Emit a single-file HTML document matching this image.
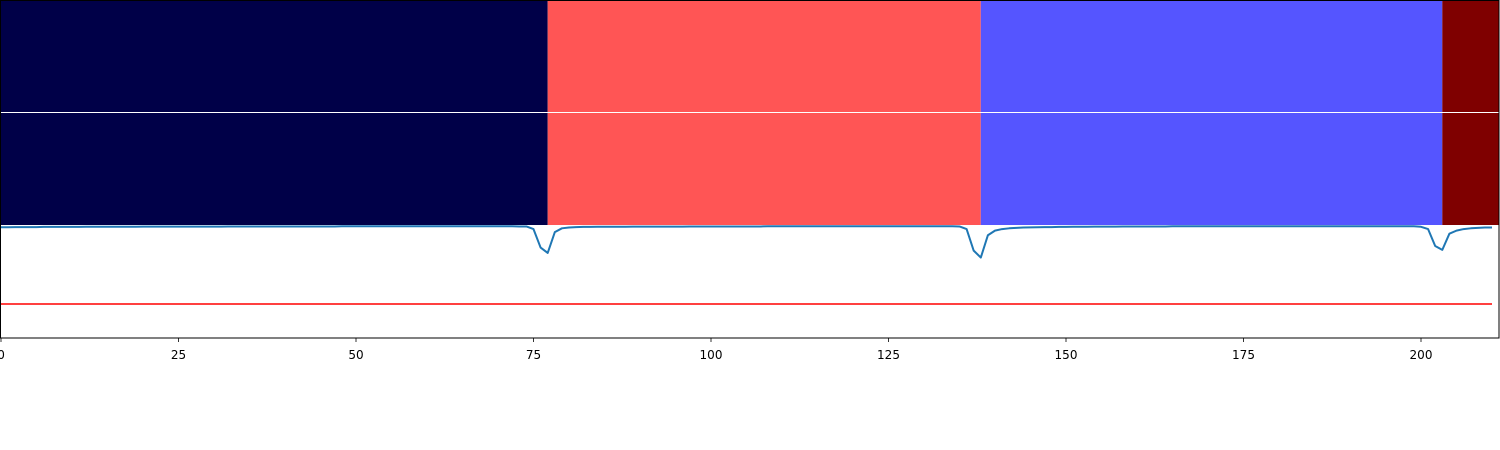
<!DOCTYPE html>
<html><head><meta charset="utf-8"><style>
html,body{margin:0;padding:0;background:#fff;width:1500px;height:450px;overflow:hidden}
svg text{font-family:"DejaVu Sans","Liberation Sans",sans-serif;font-size:12px}
</style></head><body>
<svg id="chart" width="1500" height="450" xmlns="http://www.w3.org/2000/svg"></svg>
<script>
const segStarts = [0, 77, 138, 203];
const segEnds = [77, 138, 203, 211];
const segColors = ["#000048", "#ff5555", "#5555ff", "#7f0000"];
const xTicks = [0, 25, 50, 75, 100, 125, 150, 175, 200];
const threshold = 0.5;
const probs = [
0.992,0.992,0.993,0.993,0.993,0.993,0.994,0.994,0.994,0.994,
0.994,0.994,0.995,0.995,0.995,0.995,0.995,0.995,0.995,0.995,
0.996,0.996,0.996,0.996,0.996,0.996,0.996,0.996,0.996,0.996,
0.996,0.996,0.997,0.997,0.997,0.997,0.997,0.997,0.997,0.997,
0.997,0.997,0.997,0.997,0.997,0.997,0.997,0.997,0.998,0.998,
0.998,0.998,0.998,0.998,0.998,0.998,0.998,0.998,0.998,0.998,
0.998,0.998,0.998,0.998,0.998,0.998,0.998,0.998,0.998,0.998,
0.998,0.998,0.998,0.997,0.997,0.98,0.86,0.825,0.96,0.985,
0.99,0.993,0.994,0.994,0.995,0.995,0.995,0.995,0.995,0.996,
0.996,0.996,0.996,0.996,0.996,0.996,0.996,0.997,0.997,0.997,
0.997,0.997,0.997,0.997,0.997,0.997,0.997,0.997,0.998,0.998,
0.998,0.998,0.998,0.998,0.998,0.998,0.998,0.998,0.998,0.998,
0.998,0.998,0.998,0.998,0.998,0.998,0.998,0.998,0.998,0.998,
0.998,0.998,0.998,0.998,0.998,0.997,0.98,0.84,0.795,0.94,
0.97,0.98,0.985,0.988,0.99,0.991,0.992,0.993,0.993,0.994,
0.994,0.995,0.995,0.995,0.996,0.996,0.996,0.996,0.997,0.997,
0.997,0.997,0.997,0.997,0.997,0.998,0.998,0.998,0.998,0.998,
0.998,0.998,0.998,0.998,0.998,0.998,0.998,0.998,0.998,0.998,
0.998,0.998,0.998,0.998,0.998,0.998,0.998,0.998,0.998,0.998,
0.998,0.998,0.998,0.998,0.998,0.998,0.998,0.998,0.998,
0.998,0.995,0.98,0.87,0.845,0.95,0.97,0.98,0.985,0.988,
0.99,0.99];
const NS="http://www.w3.org/2000/svg";
const svg=document.getElementById('chart');
const X0=1, PX=7.1;
function xs(v){return X0+v*PX;}
const yTop=226, yPerUnit=154;
function ys(v){return yTop+(1-v)*yPerUnit;}
function mk(tag,attrs){const e=document.createElementNS(NS,tag);for(const k in attrs)e.setAttribute(k,attrs[k]);svg.appendChild(e);return e;}
for(let r=0;r<2;r++){
  for(let i=0;i<segStarts.length;i++){
    const y=r===0?0:113;
    const x1=xs(segStarts[i]), x2=Math.min(xs(segEnds[i]),1499);
    const el=mk('rect',{x:x1,y:y,width:Math.max(0,x2-x1),height:112,fill:segColors[i]});
    
    
  }
}
const th=mk('line',{x1:xs(0),x2:xs(210),y1:ys(threshold)+1,y2:ys(threshold)+1,stroke:'#ff0000','stroke-width':1.6});


let d='';
probs.forEach((v,i)=>{d+=(i?'L':'M')+xs(i).toFixed(2)+','+ys(v).toFixed(2);});
const pl=mk('path',{d:d,fill:'none',stroke:'#1f77b4','stroke-width':2,'stroke-linejoin':'round'});


const frame=mk('rect',{x:0.5,y:0.5,width:1498.5,height:337.5,fill:'none',stroke:'#000','stroke-width':1});


xTicks.forEach(t=>{
  const tk=mk('line',{x1:xs(t),x2:xs(t),y1:338,y2:342,stroke:'#000','stroke-width':0.8});
  
  
  const lb=mk('text',{x:xs(t),y:359,'text-anchor':'middle',fill:'#000'});
  lb.textContent=t;
  
  
});
</script>
</body></html>
